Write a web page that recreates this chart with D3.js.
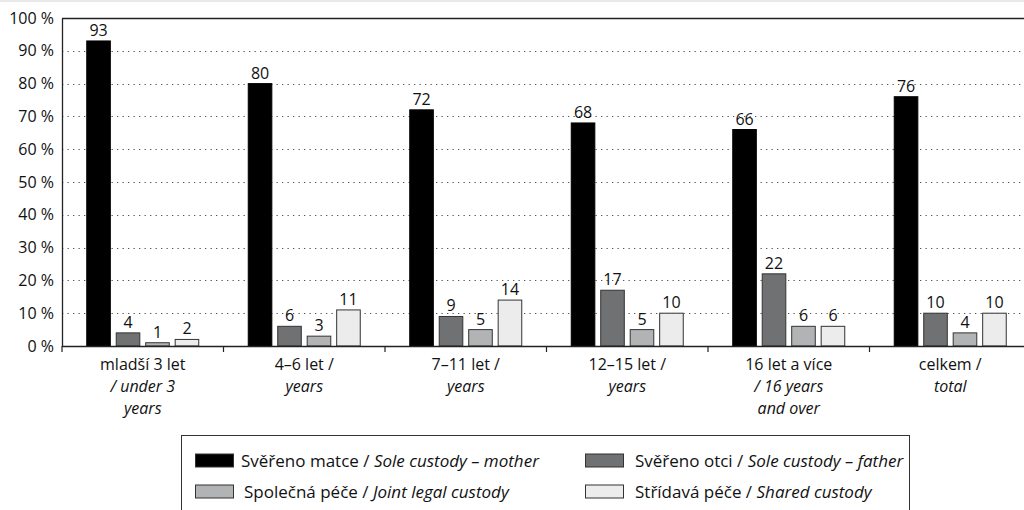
<!DOCTYPE html>
<html><head><meta charset="utf-8">
<script src="https://cdn.jsdelivr.net/npm/d3@7/dist/d3.min.js"></script>
<style>body{margin:0;background:#fff;}svg{display:block;font-family:"Open Sans",sans-serif;}</style>
</head><body>
<svg id="c" width="1024" height="510"></svg>
<script>
const categories = ["g1","g2","g3","g4","g5","g6"];
const catLines1 = ["mladší 3 let","4–6 let /","7–11 let /","12–15 let /","16 let a více","celkem /"];
const catLines2 = ["/ under 3","years","years","years","/ 16 years","total"];
const catLines3 = ["years","","","","and over",""];
const seriesKeys = ["mother","father","joint","shared"];
const seriesCz = ["Svěřeno matce / ","Svěřeno otci / ","Společná péče / ","Střídavá péče / "];
const seriesEn = ["Sole custody – mother","Sole custody – father","Joint legal custody","Shared custody"];
const seriesColors = ["#000000","#707173","#b2b3b4","#ebeceb"];
const mother = [93,80,72,68,66,76];
const father = [4,6,9,17,22,10];
const joint  = [1,3,5,5,6,4];
const shared = [2,11,14,10,6,10];
const yTicks = [0,10,20,30,40,50,60,70,80,90,100];

const series = [mother,father,joint,shared];
const svg = d3.select("#c");
const L=62, R=1031, T=18, B=346;
const FS = 16;

svg.append("line").attr("x1",0).attr("x2",1024).attr("y1",1).attr("y2",1).attr("stroke","#e2e2e2").attr("stroke-width",1.5);

const y = d3.scaleLinear().domain([0,100]).range([B,T]);
const x0 = d3.scaleBand().domain(categories).range([L,R]).padding(0);
const gw = 112, off = (x0.bandwidth()-gw)/2;
const x1 = d3.scaleBand().domain(seriesKeys).range([off, off+gw]).paddingInner(0.2).paddingOuter(0);

// grid
svg.append("g").selectAll("line").data(yTicks.filter(d=>d>0&&d<100)).join("line")
  .attr("x1",L).attr("x2",1024).attr("y1",d=>Math.round(y(d))+0.5).attr("y2",d=>Math.round(y(d))+0.5)
  .attr("stroke","#555").attr("stroke-width",1.2).attr("stroke-dasharray","1.3,4.2");

// top line
svg.append("line").attr("x1",L).attr("x2",1024).attr("y1",T+0.5).attr("y2",T+0.5).attr("stroke","#222").attr("stroke-width",1.3);

// y axis
const yAxis = d3.axisLeft(y).tickValues(yTicks).tickSize(0).tickPadding(8).tickFormat(d=>d+" %");
const ya = svg.append("g").attr("transform",`translate(${L},0)`).call(yAxis);
ya.select(".domain").attr("stroke","#222").attr("stroke-width",1.3);
ya.selectAll("text").attr("font-size",FS).attr("fill","#111").attr("font-family","Open Sans");

// bars
const groups = svg.append("g").selectAll("g").data(categories).join("g")
  .attr("transform",d=>`translate(${x0(d)},0)`);
groups.each(function(c,ci){
  const g = d3.select(this);
  seriesKeys.forEach((k,si)=>{
    const v = series[si][ci];
    g.append("rect").attr("x",x1(k)).attr("width",x1.bandwidth())
      .attr("y",y(v)).attr("height",y(0)-y(v))
      .attr("fill",seriesColors[si]).attr("stroke",si===0?"#000":"#333").attr("stroke-width",1);
    g.append("text").attr("x",x1(k)+x1.bandwidth()/2).attr("y",y(v)-5)
      .attr("text-anchor","middle").attr("font-size",FS).attr("fill","#111").text(v);
  });
});

// x axis
const xa = svg.append("g").attr("transform",`translate(0,${B})`);
xa.append("line").attr("x1",L).attr("x2",1024).attr("y1",0.5).attr("y2",0.5).attr("stroke","#222").attr("stroke-width",1.3);
xa.selectAll("line.tk").data(categories).join("line").attr("class","tk")
  .attr("x1",d=>x0(d)).attr("x2",d=>x0(d)).attr("y1",0).attr("y2",6).attr("stroke","#222").attr("stroke-width",1.2);

categories.forEach((c,i)=>{
  const cx = x0(c)+x0.bandwidth()/2;
  const t = svg.append("text").attr("text-anchor","middle").attr("font-size",FS).attr("fill","#111");
  t.append("tspan").attr("x",cx).attr("y",369.5).text(catLines1[i]);
  t.append("tspan").attr("x",cx).attr("y",391.5).attr("font-style","italic").text(catLines2[i]);
  if(catLines3[i]) t.append("tspan").attr("x",cx).attr("y",413.5).attr("font-style","italic").text(catLines3[i]);
});

// legend
svg.append("rect").attr("x",181.5).attr("y",435.5).attr("width",728).attr("height",90)
  .attr("fill","none").attr("stroke","#333").attr("stroke-width",1);
const legPos = [[195,460.5],[585,460.5],[195,491.5],[585,491.5]];
const legTextOff = [46,50,49,50];
seriesKeys.forEach((k,i)=>{
  const [lx,ly] = legPos[i];
  svg.append("rect").attr("x",lx+0.5).attr("y",ly-6.5).attr("width",38).attr("height",13)
    .attr("fill",seriesColors[i]).attr("stroke","#333").attr("stroke-width",1);
  const t = svg.append("text").attr("x",lx+legTextOff[i]).attr("y",ly+6).attr("font-size",17).attr("fill","#111");
  t.append("tspan").text(seriesCz[i]);
  t.append("tspan").attr("font-style","italic").text(seriesEn[i]);
});
</script>
</body></html>
